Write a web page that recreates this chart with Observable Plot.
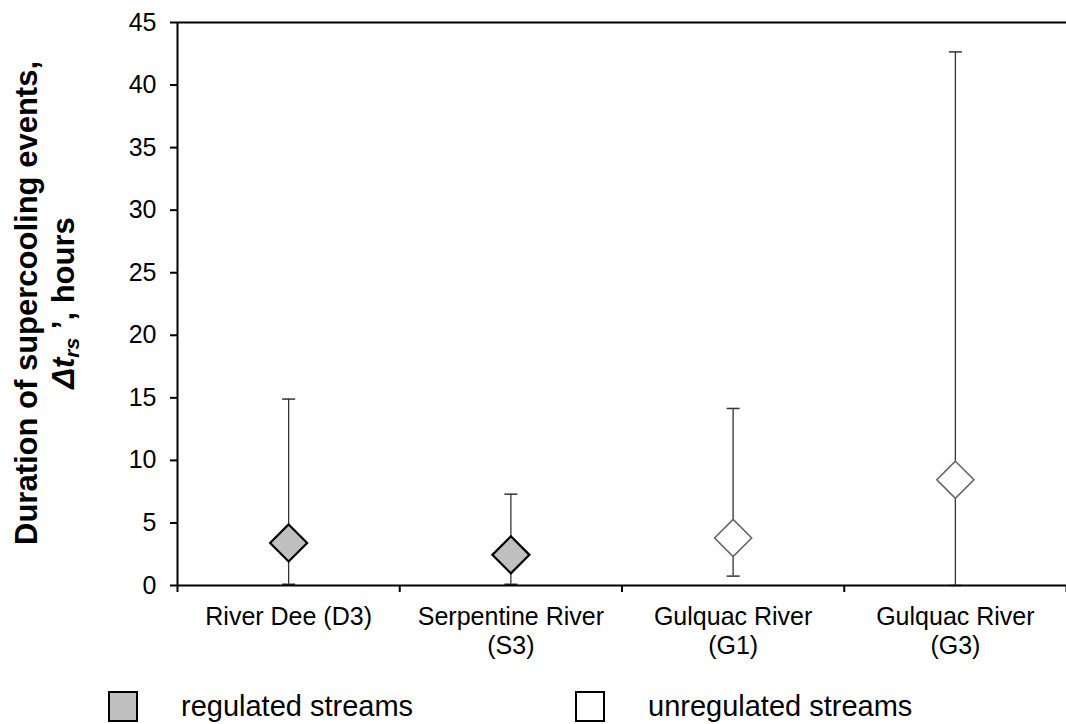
<!DOCTYPE html>
<html>
<head>
<meta charset="utf-8">
<script src="https://cdn.jsdelivr.net/npm/d3@7"></script>
<script src="https://cdn.jsdelivr.net/npm/@observablehq/plot@0.6"></script>
<style>
  body { margin: 0; background: #fff; font-family: "Liberation Sans", Arial, sans-serif; }
  #wrap { position: relative; width: 1066px; height: 724px; overflow: hidden; }
  #legend { position: absolute; left: 0; top: 690px; width: 1066px; height: 32px; }
  .item { position: absolute; top: 0; height: 32px; display: flex; align-items: center; font-size: 29px; color: #000; }
  .sw { width: 30px; height: 31px; box-sizing: border-box; border: 2px solid #000; margin-right: 43px; flex: none; }
</style>
</head>
<body>
<div id="wrap">
  <div id="chart"></div>
  <div id="legend"></div>
</div>
<script>
// ---- data ----
const sites = ["River Dee (D3)", "Serpentine River\n(S3)", "Gulquac River\n(G1)", "Gulquac River\n(G3)"];
const regulation = ["regulated", "regulated", "unregulated", "unregulated"];
const meanHours = [3.4, 2.45, 3.8, 8.45];
const minHours = [0.1, 0.1, 0.75, 0];
const maxHours = [14.9, 7.3, 14.15, 42.65];
const yTicks = [0, 5, 10, 15, 20, 25, 30, 35, 40, 45];
const legendLabels = ["regulated streams", "unregulated streams"];
const legendFills = ["#c0c0c0", "#ffffff"];

const rows = sites.map((s, i) => ({
  pos: i + 0.5, site: s, reg: regulation[i],
  mean: meanHours[i], min: minHours[i], max: maxHours[i]
}));

const cap = {
  draw(ctx, size) {
    const w = Math.sqrt(size / Math.PI);
    ctx.moveTo(-w, 0);
    ctx.lineTo(w, 0);
  }
};

const font = '"Liberation Sans", Arial, sans-serif';

const plot = Plot.plot({
  width: 1066,
  height: 670,
  marginLeft: 177,
  marginRight: 0,
  marginTop: 22,
  marginBottom: 85,
  x: { domain: [0, sites.length], axis: null },
  y: { domain: [0, 45], axis: null },
  style: { fontFamily: font, color: "#000", background: "#fff", overflow: "visible" },
  marks: [
    Plot.ruleY([45], { stroke: "#000", strokeWidth: 2 }),
    Plot.ruleX(rows, { x: "pos", y1: "min", y2: "max", stroke: "#333", strokeWidth: 1.3 }),
    Plot.dot(rows, { x: "pos", y: "max", symbol: cap, r: 6.5, fill: "none", stroke: "#333", strokeWidth: 1.5 }),
    Plot.dot(rows, { x: "pos", y: "min", symbol: cap, r: 6.5, fill: "none", stroke: "#333", strokeWidth: 1.5 }),
    Plot.dot(rows, { filter: d => d.reg === "regulated", x: "pos", y: "mean", symbol: "diamond2", r: 16.7, fill: "#c0c0c0", stroke: "#000", strokeWidth: 2.2 }),
    Plot.dot(rows, { filter: d => d.reg === "unregulated", x: "pos", y: "mean", symbol: "diamond2", r: 16.7, fill: "#fff", stroke: "#666", strokeWidth: 1.6 }),
    Plot.ruleX([0], { stroke: "#000", strokeWidth: 2 }),
    Plot.ruleY([0], { stroke: "#000", strokeWidth: 2 }),
    Plot.axisY({ ticks: yTicks, tickSize: 7, tickPadding: 14, fontSize: 25, tickFormat: d => String(d), strokeWidth: 2, label: null }),
    Plot.axisX({ ticks: d3.range(sites.length + 1), tickSize: 7, tickFormat: () => "", strokeWidth: 2, label: null }),
    Plot.axisX({ ticks: rows.map(d => d.pos), tickSize: 0, tickPadding: 19, fontSize: 25, lineHeight: 1.15, label: null,
                 tickFormat: d => sites[Math.round(d - 0.5)] })
  ]
});

document.getElementById("chart").appendChild(plot);

// y axis title (two lines, rotated)
const svg = d3.select(plot);
const cy = 303;
svg.append("text")
  .attr("transform", `translate(37,${cy}) rotate(-90)`)
  .attr("text-anchor", "middle")
  .style("font-family", font).style("font-weight", "bold").style("font-size", "31px").attr("fill", "#000")
  .text("Duration of supercooling events,");
const t2 = svg.append("text")
  .attr("transform", `translate(74,${cy}) rotate(-90)`)
  .attr("text-anchor", "middle")
  .style("font-family", font).style("font-weight", "bold").style("font-size", "31px").attr("fill", "#000");
t2.append("tspan").style("font-style", "italic").text("Δt");
t2.append("tspan").style("font-style", "italic").style("font-size", "21px").attr("dy", "5").text("rs");
t2.append("tspan").attr("dy", "-5").text(" ’, hours");

// legend
const leg = document.getElementById("legend");
const lefts = [108, 575];
legendLabels.forEach((lab, i) => {
  const it = document.createElement("div");
  it.className = "item";
  it.style.left = lefts[i] + "px";
  const sw = document.createElement("div");
  sw.className = "sw";
  sw.style.background = legendFills[i];
  const tx = document.createElement("span");
  tx.textContent = lab;
  it.appendChild(sw);
  it.appendChild(tx);
  leg.appendChild(it);
});
</script>
</body>
</html>
